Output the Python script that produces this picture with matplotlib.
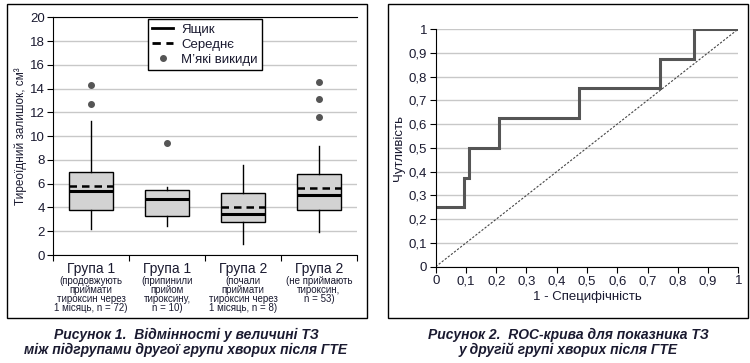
import matplotlib
matplotlib.use("Agg")
import matplotlib.pyplot as plt
from matplotlib.patches import Rectangle
from matplotlib.lines import Line2D
import matplotlib.transforms as mtransforms

plt.rcParams['font.family'] = ['Liberation Sans', 'DejaVu Sans']
TXT = '#1a1a30'

# --- дані: рисунок 1 (бокс-плоти)
groups = ['Група 1', 'Група 1', 'Група 2', 'Група 2']
subs = ['(продовжують\nприймати\nтироксин через\n1 місяць, n = 72)',
        '(припинили\nприйом\nтироксину,\nn = 10)',
        '(почали\nприймати\nтироксин через\n1 місяць, n = 8)',
        '(не приймають\nтироксин,\nn = 53)']
q1 = [3.8, 3.25, 2.8, 3.75]
med = [5.4, 4.7, 3.45, 5.05]
q3 = [7.0, 5.45, 5.25, 6.85]
mean = [5.8, 4.7, 4.05, 5.65]
wlo = [2.2, 2.45, 0.95, 1.95]
whi = [11.25, 5.75, 7.55, 9.2]
fliers = [[14.3, 12.7], [9.4], [], [14.55, 13.1, 11.6]]

# --- дані: рисунок 2 (ROC)
fpr = [0, 0.095, 0.095, 0.11, 0.11, 0.21, 0.21, 0.475, 0.475, 0.74, 0.74, 0.855, 0.855, 1.0]
tpr = [0.25, 0.25, 0.375, 0.375, 0.5, 0.5, 0.625, 0.625, 0.75, 0.75, 0.875, 0.875, 1.0, 1.0]

fig = plt.figure(figsize=(7.5, 3.63), dpi=100)

# рамки
for x0 in (7, 388):
    fig.patches.append(Rectangle((x0 / 750, 1 - 318 / 363), 360 / 750, 314 / 363,
                                 transform=fig.transFigure, fill=False,
                                 edgecolor='black', lw=1.0))

# ---------- рисунок 1
ax1 = fig.add_axes([53 / 750, 1 - 255 / 363, 304 / 750, 237.7 / 363])
stats = []
for i in range(4):
    stats.append(dict(med=med[i], q1=q1[i], q3=q3[i], mean=mean[i],
                      whislo=wlo[i], whishi=whi[i], fliers=fliers[i]))
ax1.bxp(stats, positions=[1, 2, 3, 4], widths=0.57, patch_artist=True,
        showmeans=True, meanline=True, showcaps=False,
        boxprops=dict(facecolor='#d3d3d3', edgecolor='black', lw=1.0),
        medianprops=dict(color='black', lw=2.2, zorder=4),
        meanprops=dict(color='black', lw=1.8, ls=(0, (3, 2)), zorder=3),
        whiskerprops=dict(color='black', lw=1.0),
        flierprops=dict(marker='o', markersize=4, markerfacecolor='#555555',
                        markeredgecolor='#555555'))
ax1.set_xlim(0.5, 4.5)
ax1.set_ylim(0, 20)
ax1.set_yticks(range(0, 21, 2))
ax1.yaxis.grid(True, color='#c8c8c8', lw=1.0)
ax1.set_axisbelow(True)
ax1.spines['right'].set_visible(False)
ax1.tick_params(axis='y', direction='out', length=4, labelsize=9.5, labelcolor=TXT, pad=2)
ax1.set_xticks([0.5, 1.5, 2.5, 3.5, 4.5])
ax1.set_xticklabels([])
ax1.tick_params(axis='x', direction='out', length=4)
ax1.set_ylabel('Тиреоїдний залишок, см³', fontsize=8.5, color=TXT, labelpad=2)
trans = mtransforms.blended_transform_factory(ax1.transData, fig.transFigure)
for i in range(4):
    ax1.text(i + 1, 1 - 269.5 / 363, groups[i], transform=trans, ha='center',
             va='center', fontsize=10, color=TXT)
    ax1.text(i + 1, 1 - 276 / 363, subs[i], transform=trans, ha='center',
             va='top', fontsize=7, color=TXT, linespacing=0.88)

handles = [Line2D([], [], color='black', lw=2),
           Line2D([], [], color='black', lw=2, ls=(0, (3, 2))),
           Line2D([], [], color='#555555', marker='o', ls='none', markersize=4)]
leg = ax1.legend(handles, ['Ящик', 'Середнє', 'М\u2019які викиди'],
                 loc='upper center', bbox_to_anchor=(0.5, 1.022),
                 fontsize=9.5, frameon=True, fancybox=False, edgecolor='black',
                 handlelength=1.6, handletextpad=0.6, borderpad=0.35,
                 labelspacing=0.22, framealpha=1)
leg.get_frame().set_linewidth(1.0)
for t in leg.get_texts():
    t.set_color(TXT)

fig.text(186 / 750, 1 - 342.5 / 363,
         'Рисунок 1.  Відмінності у величині ТЗ\nміж підгрупами другої групи хворих після ГТЕ',
         ha='center', va='center', fontsize=10, fontweight='bold', style='italic',
         color=TXT, linespacing=1.1)

# ---------- рисунок 2
ax2 = fig.add_axes([435.7 / 750, 1 - 266.7 / 363, 302.6 / 750, 237.7 / 363])
ax2.plot([0, 1], [0, 1], color='#444444', lw=0.8, ls=(0, (2, 1.5)))
ax2.plot(fpr, tpr, color='#555555', lw=2.2, solid_joinstyle='miter')
ax2.set_xlim(0, 1)
ax2.set_ylim(0, 1)
ticks = [i / 10 for i in range(11)]
labels = ['0'] + ['0,%d' % i for i in range(1, 10)] + ['1']
ax2.set_xticks(ticks)
ax2.set_xticklabels(labels)
ax2.set_yticks(ticks)
ax2.set_yticklabels(labels)
ax2.yaxis.grid(True, color='#c8c8c8', lw=1.0)
ax2.set_axisbelow(True)
ax2.spines['right'].set_visible(False)
ax2.spines['top'].set_visible(False)
ax2.tick_params(direction='out', length=4, labelsize=9.5, labelcolor=TXT, pad=2)
ax2.set_xlabel('1 - Специфічність', fontsize=9.5, color=TXT, labelpad=3)
ax2.set_ylabel('Чутливість', fontsize=9.5, color=TXT, labelpad=3)

fig.text(568 / 750, 1 - 342.5 / 363,
         'Рисунок 2.  ROC-крива для показника ТЗ\nу другій групі хворих після ГТЕ',
         ha='center', va='center', fontsize=10, fontweight='bold', style='italic',
         color=TXT, linespacing=1.1)

fig.savefig('out.png', dpi=100)
